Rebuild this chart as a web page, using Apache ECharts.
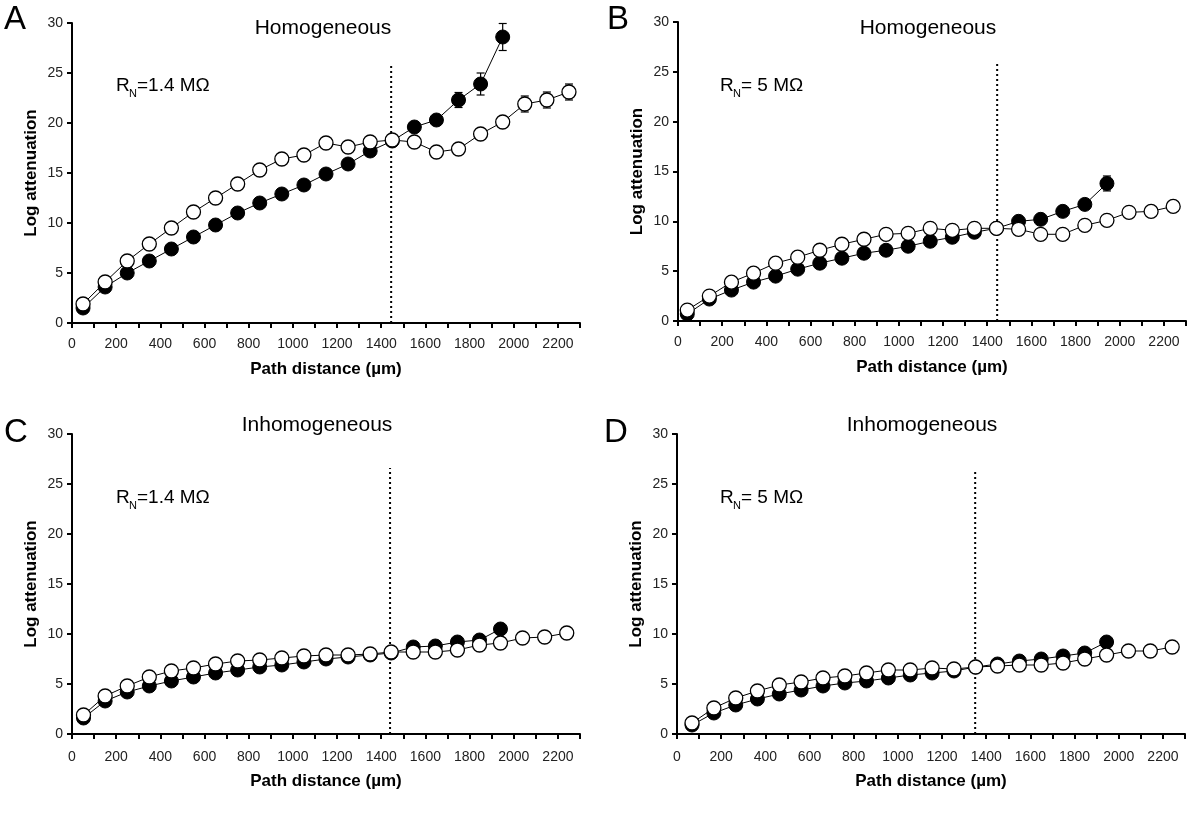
<!DOCTYPE html>
<html>
<head>
<meta charset="utf-8">
<script src="https://cdn.jsdelivr.net/npm/echarts@6/dist/echarts.min.js"></script>
<style>
html,body{margin:0;padding:0;background:#fff;}
#chart{width:1200px;height:816px;}
</style>
</head>
<body>
<div id="chart"></div>
<script>
// ---------- data ----------
const xTickLabelsStep = 200;
const yTicks = [0, 5, 10, 15, 20, 25, 30];

const xA = [50,150,250,350,450,550,650,750,850,950,1050,1150,1250,1350,1450,1550,1650,1750,1850,1950,2050,2150,2250];
const xB = [42,142,242,342,442,542,642,742,842,942,1042,1142,1242,1342,1442,1542,1642,1742,1842,1942,2042,2142,2242];
const xC = [52,150,250,350,450,550,650,750,850,950,1050,1150,1250,1350,1445,1545,1645,1745,1845,1940,2040,2140,2240];
const xD = [68,167,266,364,463,562,661,760,858,957,1056,1155,1254,1352,1451,1550,1649,1748,1846,1945,2044,2143,2242];

const aFilled = [1.5,3.6,5.0,6.2,7.4,8.6,9.8,11.0,12.0,12.9,13.8,14.9,15.9,17.2,18.2,19.6,20.3,22.3,23.9,28.6];
const aOpen   = [1.9,4.1,6.2,7.9,9.5,11.1,12.5,13.9,15.3,16.4,16.8,18.0,17.6,18.1,18.3,18.1,17.1,17.4,18.9,20.1,21.9,22.3,23.1];
const aFilledErr = [0,0,0,0,0,0,0,0,0,0,0,0,0,0,0,0,0,0.75,1.1,1.35];
const aOpenErr   = [0,0,0,0,0,0,0,0,0,0,0,0,0,0,0,0,0,0,0,0,0.8,0.8,0.8];

const bFilled = [0.7,2.2,3.1,3.9,4.5,5.2,5.8,6.3,6.8,7.1,7.5,8.0,8.4,8.9,9.3,10.0,10.2,11.0,11.7,13.8];
const bOpen   = [1.1,2.5,3.9,4.8,5.8,6.4,7.1,7.7,8.2,8.7,8.8,9.3,9.1,9.3,9.3,9.2,8.7,8.7,9.6,10.1,10.9,11.0,11.5];
const bFilledErr = [0,0,0,0,0,0,0,0,0,0,0,0,0,0,0,0,0,0,0,0.75];
const bOpenErr   = [];

const cFilled = [1.6,3.3,4.2,4.8,5.3,5.7,6.1,6.4,6.7,6.9,7.2,7.5,7.7,7.9,8.1,8.7,8.8,9.2,9.4,10.5];
const cOpen   = [1.9,3.8,4.8,5.7,6.3,6.6,7.0,7.3,7.4,7.6,7.8,7.9,7.9,8.0,8.2,8.2,8.2,8.4,8.9,9.1,9.6,9.7,10.1];

const dFilled = [0.9,2.1,2.9,3.5,4.0,4.4,4.8,5.1,5.3,5.6,5.9,6.1,6.3,6.7,7.0,7.3,7.5,7.8,8.1,9.2];
const dOpen   = [1.1,2.6,3.6,4.3,4.9,5.2,5.6,5.8,6.1,6.4,6.4,6.6,6.5,6.7,6.8,6.9,6.9,7.1,7.5,7.9,8.3,8.3,8.7];

const dividerX = [1445, 1445, 1440, 1350];
const dividerTop = [26, 26, 26.6, 26.3];

const panelTitles = ['Homogeneous', 'Homogeneous', 'Inhomogeneous', 'Inhomogeneous'];
const panelLetters = ['A', 'B', 'C', 'D'];
const rnValues = ['=1.4 MΩ', '= 5 MΩ', '=1.4 MΩ', '= 5 MΩ'];
const yAxisName = 'Log attenuation';
const xAxisName = 'Path distance (µm)';

// ---------- layout ----------
const FONT = '"Liberation Sans", Arial, sans-serif';
const grids = [
  {left: 72,  top: 23,  width: 508, height: 300},
  {left: 678, top: 22,  width: 508, height: 299},
  {left: 72,  top: 434, width: 508, height: 300},
  {left: 677, top: 434, width: 508, height: 300}
];
const panels = [
  {x: xA, filled: aFilled, open: aOpen, fErr: aFilledErr, oErr: aOpenErr},
  {x: xB, filled: bFilled, open: bOpen, fErr: bFilledErr, oErr: bOpenErr},
  {x: xC, filled: cFilled, open: cOpen, fErr: [], oErr: []},
  {x: xD, filled: dFilled, open: dOpen, fErr: [], oErr: []}
];

const zip = (xs, ys) => ys.map((v, i) => [xs[i], v]);
const errData = (xs, ys, es) => es.map((e, i) => [xs[i], ys[i], e]).filter(d => d[2] > 0);

function errRender(params, api) {
  const x = api.value(0), y = api.value(1), e = api.value(2);
  const t = api.coord([x, y + e]);
  const b = api.coord([x, y - e]);
  const w = 4;
  const st = {stroke: '#000', lineWidth: 1.2};
  return {type: 'group', children: [
    {type: 'line', shape: {x1: t[0], y1: t[1], x2: b[0], y2: b[1]}, style: st},
    {type: 'line', shape: {x1: t[0] - w, y1: t[1], x2: t[0] + w, y2: t[1]}, style: st},
    {type: 'line', shape: {x1: b[0] - w, y1: b[1], x2: b[0] + w, y2: b[1]}, style: st}
  ]};
}

const xAxes = [], yAxes = [], series = [];
panels.forEach((p, i) => {
  const bottomRow = i >= 2;
  xAxes.push({
    gridIndex: i, type: 'value', min: 0, max: 2300, interval: 100,
    name: xAxisName, nameLocation: 'middle', nameGap: bottomRow ? 39 : 38,
    nameTextStyle: {fontFamily: FONT, fontWeight: 'bold', fontSize: 17, color: '#000'},
    axisLine: {show: true, onZero: false, lineStyle: {color: '#000', width: 2}},
    axisTick: {show: true, inside: false, length: 5, lineStyle: {color: '#000', width: 2}},
    axisLabel: {margin: bottomRow ? 16 : 14, fontFamily: FONT, fontSize: 14, color: '#222',
      formatter: v => (v % xTickLabelsStep === 0 ? String(v) : '')},
    splitLine: {show: false}
  });
  yAxes.push({
    gridIndex: i, type: 'value', min: yTicks[0], max: yTicks[yTicks.length - 1], interval: yTicks[1] - yTicks[0],
    name: yAxisName, nameLocation: 'middle', nameGap: 32,
    nameTextStyle: {fontFamily: FONT, fontWeight: 'bold', fontSize: 17, color: '#000'},
    axisLine: {show: true, lineStyle: {color: '#000', width: 2}},
    axisTick: {show: true, inside: false, length: 5, lineStyle: {color: '#000', width: 2}},
    axisLabel: {margin: 9, fontFamily: FONT, fontSize: 14, color: '#222'},
    splitLine: {show: false}
  });
  // dotted divider
  series.push({
    type: 'line', xAxisIndex: i, yAxisIndex: i, z: 1,
    data: [[dividerX[i], 0], [dividerX[i], dividerTop[i]]],
    symbol: 'none', silent: true,
    lineStyle: {color: '#000', width: 2, type: [2, 3]}
  });
  // error bars
  const eb = errData(p.x, p.filled, p.fErr).concat(errData(p.x, p.open, p.oErr));
  if (eb.length) {
    series.push({
      type: 'custom', xAxisIndex: i, yAxisIndex: i, z: 2,
      renderItem: errRender, data: eb, encode: {x: 0, y: 1}, silent: true
    });
  }
  series.push({
    type: 'line', xAxisIndex: i, yAxisIndex: i, z: 3,
    data: zip(p.x, p.filled), symbol: 'circle', symbolSize: 14, showAllSymbol: true,
    lineStyle: {color: '#000', width: 1},
    itemStyle: {color: '#000', borderColor: '#000', borderWidth: 1}
  });
  series.push({
    type: 'line', xAxisIndex: i, yAxisIndex: i, z: 4,
    data: zip(p.x, p.open), symbol: 'circle', symbolSize: 14, showAllSymbol: true,
    lineStyle: {color: '#000', width: 1},
    itemStyle: {color: '#fff', borderColor: '#000', borderWidth: 1.3}
  });
});

// ---------- annotations ----------
const titlePos = [[323, 28], [928, 28], [317, 425], [922, 425]];
const letterPos = [[15, 20], [618, 20], [16, 433], [616, 433]];
const rnPos = [[116, 86], [720, 86], [116, 498], [720, 498]];
const graphic = [];
for (let i = 0; i < 4; i++) {
  graphic.push({type: 'text', x: titlePos[i][0], y: titlePos[i][1],
    style: {text: panelTitles[i], font: '21px ' + FONT, fill: '#000', align: 'center', verticalAlign: 'middle', textAlign: 'center', textVerticalAlign: 'middle'}});
  graphic.push({type: 'text', x: letterPos[i][0], y: letterPos[i][1],
    style: {text: panelLetters[i], font: '33px ' + FONT, fill: '#000', align: 'center', verticalAlign: 'middle', textAlign: 'center', textVerticalAlign: 'middle'}});
  const [rx, ry] = rnPos[i];
  graphic.push({type: 'text', x: rx, y: ry,
    style: {text: 'R', font: '19px ' + FONT, fill: '#000', align: 'left', verticalAlign: 'middle', textAlign: 'left', textVerticalAlign: 'middle'}});
  graphic.push({type: 'text', x: rx + 13, y: ry + 8,
    style: {text: 'N', font: '11px ' + FONT, fill: '#000', align: 'left', verticalAlign: 'middle', textAlign: 'left', textVerticalAlign: 'middle'}});
  graphic.push({type: 'text', x: rx + 21, y: ry,
    style: {text: rnValues[i], font: '19px ' + FONT, fill: '#000', align: 'left', verticalAlign: 'middle', textAlign: 'left', textVerticalAlign: 'middle'}});
}

const chart = echarts.init(document.getElementById('chart'), null, {renderer: 'canvas'});
chart.setOption({
  animation: false,
  backgroundColor: '#fff',
  textStyle: {fontFamily: FONT},
  grid: grids,
  xAxis: xAxes,
  yAxis: yAxes,
  series: series,
  graphic: graphic
});
</script>
</body>
</html>
